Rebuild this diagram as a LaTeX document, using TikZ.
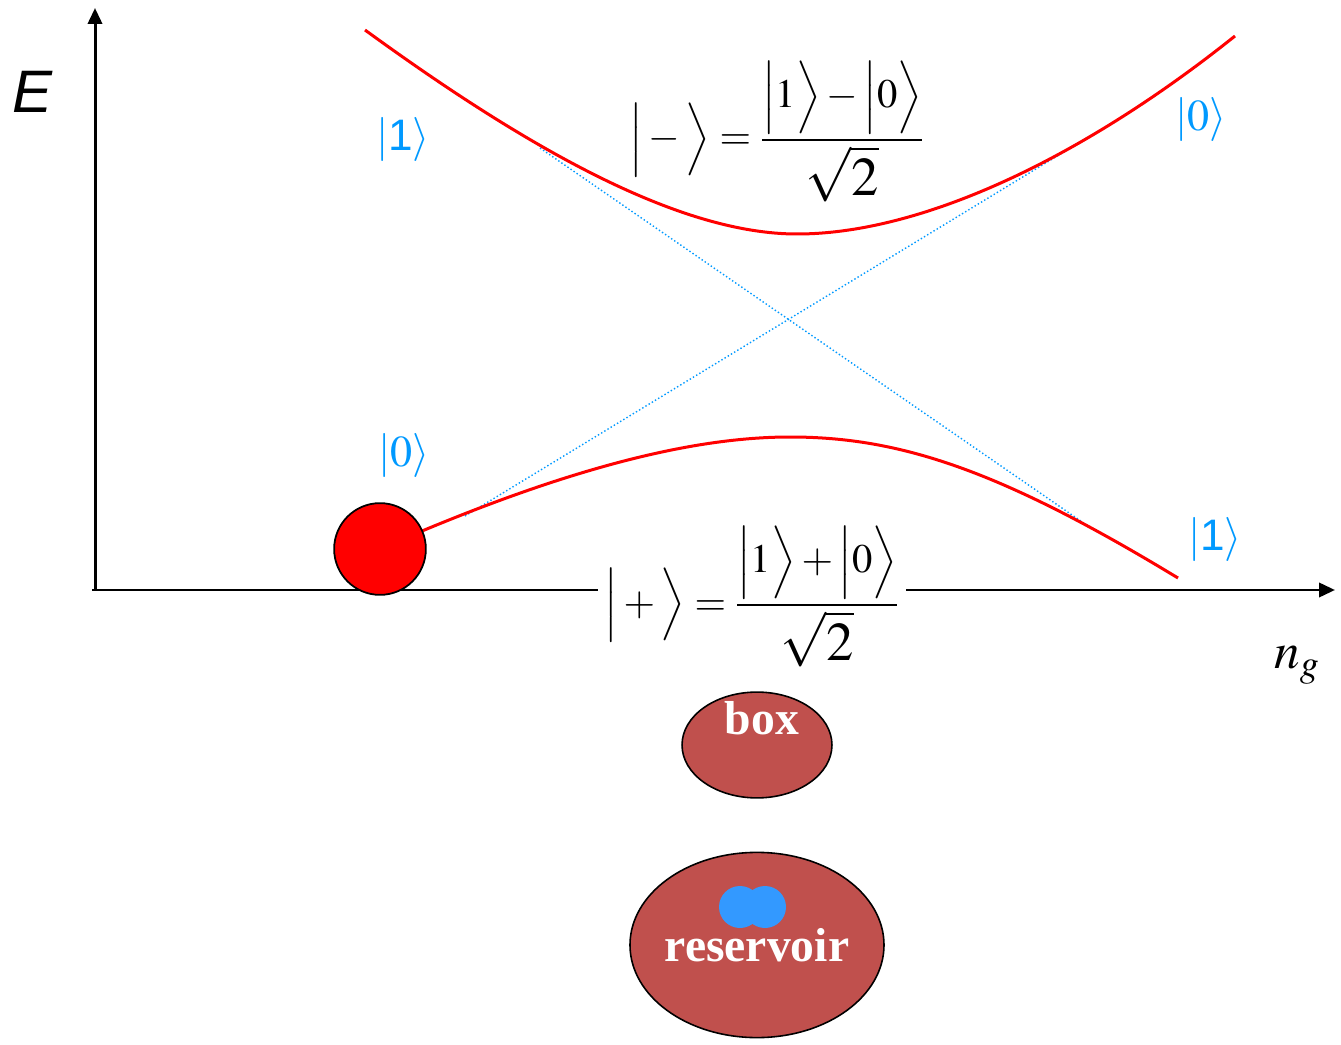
\documentclass[tikz,border=0pt]{standalone}
\usepackage{amsmath}
\usepackage{mathptmx}
\usepackage{fontspec}
\setmainfont{Liberation Serif}
\setsansfont{Liberation Sans}
\usepackage{xcolor}
\usetikzlibrary{arrows.meta,shapes.geometric}
\definecolor{ketblue}{RGB}{0, 153, 255}
\definecolor{dropblue}{RGB}{51, 153, 255}
\definecolor{islandred}{RGB}{192, 80, 77}
\newcommand{\bigroot}{\mbox{\fontsize{31}{36}\selectfont$\sqrt{2}$}}

\tikzset{
  axis/.style={line width=1.7pt, -{Triangle[length=9pt,width=8pt]}},
  level/.style={line width=1.7pt, red},
  asym/.style={line width=0.8pt, ketblue, dash pattern=on 0.8pt off 1.3pt},
  ket/.style={font=\fontsize{25}{30}\selectfont\color{ketblue}, inner sep=0pt},
  formula/.style={font=\fontsize{23}{28}\selectfont, anchor=base},
  blob/.style={ellipse, draw, line width=0.9pt, fill=islandred},
  blobtext/.style={font=\fontsize{27}{32}\selectfont\bfseries\color{white}, inner sep=0pt}
}

\begin{document}
\begin{tikzpicture}[x=0.5669pt, y=-0.5669pt]
    \useasboundingbox (0,0) rectangle (1341,1045);
    % axes
    \coordinate (origin) at (95,590);
    \coordinate (ytip) at (95,8);
    \coordinate (xstart) at (92,590);
    \coordinate (xtip) at (1335,590);
    \draw[axis] (origin) -- (ytip);
    \draw[axis] (xstart) -- (xtip);
    \node[font=\fontsize{34}{40}\selectfont\sffamily\itshape] (elabel) at (33,92) {E};
    \node[font=\fontsize{29}{34}\selectfont] (nglabel) at (1297,665) {$n_g$};
    % uncoupled levels
    \coordinate (a1) at (540,148);
    \coordinate (a2) at (1088,526);
    \coordinate (b1) at (465,516);
    \coordinate (b2) at (1100,130);
    \draw[asym] (a1) -- (a2);
    \draw[asym] (b1) -- (b2);
    % coupled levels
    \coordinate (dotc) at (380,549);
    \coordinate (up0) at (365,30);
    \coordinate (upmin) at (797,234);
    \coordinate (up1) at (1235,36);
    \coordinate (lowmax) at (790,437);
    \coordinate (low1) at (1178,578);
    \draw[level] (up0) .. controls (530,150) and (680,234) .. (upmin)
                       .. controls (920,234) and (1080,160) .. (up1);
    \draw[level] (dotc) .. controls (560,470) and (690,437) .. (lowmax)
                        .. controls (900,437) and (1000,470) .. (low1);
    \node[circle, draw, line width=1pt, fill=red, minimum size=52pt] (dot) at (dotc) {};
    % state labels
    \node[ket] (k1up) at (403,140) {$|\text{\sffamily 1}\rangle$};
    \node[ket] (k0up) at (1201,120) {$|0\rangle$};
    \node[ket] (k0low) at (404,456) {$|0\rangle$};
    \node[ket] (k1low) at (1215,540) {$|\text{\sffamily 1}\rangle$};
    \node[formula] (minus) at (777,150)
        {$\Big|-\Big\rangle=\dfrac{\Big|1\Big\rangle-\Big|0\Big\rangle}{\bigroot}$};
    \node[formula, fill=white, inner xsep=4pt] (plus) at (752,615)
        {$\Big|+\Big\rangle=\dfrac{\Big|1\Big\rangle+\Big|0\Big\rangle}{\bigroot}$};
    % box and reservoir
    \node[blob, minimum width=85pt, minimum height=60pt] (box) at (757,745) {};
    \node[blobtext] (boxtext) at (762,718) {box};
    \node[blob, minimum width=144pt, minimum height=105pt] (res) at (757,945) {};
    \fill[dropblue] (740,907) circle[radius=21] (765,907) circle[radius=21];
    \node[blobtext] (restext) at (757,945) {reservoir};
\end{tikzpicture}
\end{document}
